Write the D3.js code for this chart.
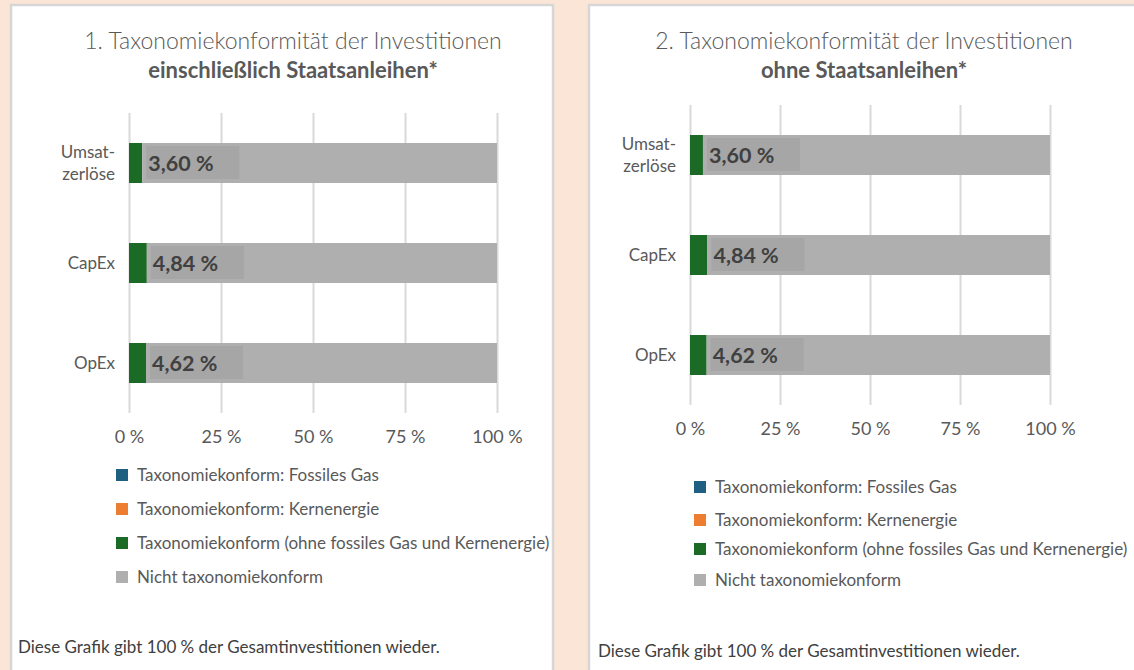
<!DOCTYPE html>
<html>
<head>
<meta charset="utf-8">
<script src="https://cdn.jsdelivr.net/npm/d3@7"></script>
<style>
  body { margin: 0; background: #fbe5d6; }
  svg { display: block; font-family: Lato, "Open Sans", sans-serif; }
</style>
</head>
<body>
<div id="chart"></div>
<script>
// Data
const categories = ["Umsatzerlöse", "CapEx", "OpEx"];
const categoryLines = [["Umsat-", "zerlöse"], ["CapEx"], ["OpEx"]];
const tickValues = [0, 25, 50, 75, 100];

// 1. including sovereign bonds
const gasIncl = [0, 0, 0];
const nuclearIncl = [0, 0, 0];
const alignedIncl = [3.60, 4.84, 4.62];
const notAlignedIncl = [96.40, 95.16, 95.38];

// 2. excluding sovereign bonds
const gasExcl = [0, 0, 0];
const nuclearExcl = [0, 0, 0];
const alignedExcl = [3.60, 4.84, 4.62];
const notAlignedExcl = [96.40, 95.16, 95.38];

const seriesNames = [
    "Taxonomiekonform: Fossiles Gas",
    "Taxonomiekonform: Kernenergie",
    "Taxonomiekonform (ohne fossiles Gas und Kernenergie)",
    "Nicht taxonomiekonform"
];
const seriesColors = ["#1f5f82", "#ed7d31", "#1b6b27", "#afafaf"];
const footnote = "Diese Grafik gibt 100 % der Gesamtinvestitionen wieder.";

const svg = d3.select("#chart")
    .append("svg")
    .attr("width", 1134)
    .attr("height", 670);

// build rows for d3.stack
function makeRows(gas, nuclear, aligned, notAligned) {
    return categories.map((c, i) => ({
        cat: c,
        lines: categoryLines[i],
        s0: gas[i], s1: nuclear[i], s2: aligned[i], s3: notAligned[i]
    }));
}

const stack = d3.stack().keys(["s0", "s1", "s2", "s3"]);

function drawPanel(cfg) {
    // white panel with grey border
    svg.append("rect")
        .attr("x", cfg.box[0])
        .attr("y", cfg.box[1])
        .attr("width", cfg.box[2])
        .attr("height", cfg.box[3])
        .attr("fill", "#fff")
        .attr("stroke", "#d6d6d6")
        .attr("stroke-width", 2.5);

    const g = svg.append("g");

    // titles
    g.append("text")
        .attr("x", cfg.titleX)
        .attr("y", cfg.titleY)
        .attr("text-anchor", "middle")
        .style("font-size", "23px")
        .style("font-weight", 300)
        .style("fill", "#595959")
        .text(cfg.title1);
    g.append("text")
        .attr("x", cfg.titleX)
        .attr("y", cfg.titleY + 29)
        .attr("text-anchor", "middle")
        .style("font-size", "22px")
        .style("font-weight", "bold")
        .style("fill", "#595959")
        .text(cfg.title2);

    const x = d3.scaleLinear().domain([0, 100]).range(cfg.xRange);
    const y = d3.scaleBand()
        .domain(categories)
        .range(cfg.yRange)
        .paddingInner(0.6)
        .paddingOuter(0.3);

    // vertical gridlines + tick labels
    const axis = g.append("g")
        .attr("transform", `translate(0,${cfg.yRange[1]})`)
        .call(d3.axisBottom(x)
            .tickValues(tickValues)
            .tickSize(-(cfg.yRange[1] - cfg.yRange[0]))
            .tickPadding(17)
            .tickFormat(d => d + " %"));
    axis.select(".domain").remove();
    axis.selectAll("line")
        .attr("stroke", "#d9d9d9")
        .attr("stroke-width", 2);
    axis.selectAll("text")
        .style("font-size", "18px")
        .style("font-family", "Lato, sans-serif")
        .style("fill", "#595959");

    const rows = makeRows(...cfg.data);
    const stacked = stack(rows);

    g.selectAll(".layer")
        .data(stacked)
        .enter()
        .append("g")
        .attr("fill", (d, i) => seriesColors[i])
        .selectAll("rect")
        .data(d => d)
        .enter()
        .append("rect")
        .attr("x", d => x(d[0]))
        .attr("y", d => y(d.data.cat))
        .attr("width", d => x(d[1]) - x(d[0]))
        .attr("height", y.bandwidth());

    // data labels for the aligned share, with a darker grey box
    const labels = g.selectAll(".dlabel")
        .data(rows)
        .enter()
        .append("g")
        .attr("transform", d => `translate(${x(d.s0 + d.s1 + d.s2) + 4},${y(d.cat) + y.bandwidth() / 2})`);
    labels.append("rect")
        .attr("x", 0)
        .attr("y", -17)
        .attr("width", 93)
        .attr("height", 33)
        .attr("fill", "#a6a6a6");
    labels.append("text")
        .attr("x", 2)
        .attr("dy", "0.35em")
        .style("font-size", "21.5px")
        .style("font-weight", "bold")
        .style("fill", "#404040")
        .text(d => d3.format(".2f")(d.s2).replace(".", ",") + " %");

    // category labels
    const cats = g.selectAll(".cat")
        .data(rows)
        .enter()
        .append("text")
        .attr("x", cfg.xRange[0] - 14)
        .attr("y", d => y(d.cat) + y.bandwidth() / 2 - (d.lines.length - 1) * 11)
        .attr("text-anchor", "end")
        .style("font-size", "17px")
        .style("fill", "#595959");
    cats.selectAll("tspan")
        .data(d => d.lines)
        .enter()
        .append("tspan")
        .attr("x", cfg.xRange[0] - 14)
        .attr("dy", (d, i) => i === 0 ? "0.35em" : "22px")
        .text(d => d);

    // legend
    const legend = g.selectAll(".legend")
        .data(seriesNames)
        .enter()
        .append("g")
        .attr("transform", (d, i) => `translate(${cfg.legendX},${cfg.legendY[i]})`);
    legend.append("rect")
        .attr("x", 0)
        .attr("y", -6)
        .attr("width", 12)
        .attr("height", 12)
        .attr("fill", (d, i) => seriesColors[i]);
    legend.append("text")
        .attr("x", 21)
        .attr("dy", "0.35em")
        .style("font-size", "17px")
        .style("fill", "#595959")
        .text(d => d);

    // footnote
    g.append("text")
        .attr("x", cfg.footX)
        .attr("y", cfg.footY)
        .attr("dy", "0.35em")
        .style("font-size", "17px")
        .style("fill", "#404040")
        .text(footnote);
}

drawPanel({
    box: [11, 5, 542, 680],
    title1: "1. Taxonomiekonformität der Investitionen",
    title2: "einschließlich Staatsanleihen*",
    titleX: 293,
    titleY: 49,
    xRange: [129, 497],
    yRange: [113, 413],
    data: [gasIncl, nuclearIncl, alignedIncl, notAlignedIncl],
    legendX: 116,
    legendY: [475, 509, 543, 577],
    footX: 18,
    footY: 647
});

drawPanel({
    box: [589, 5, 560, 680],
    title1: "2. Taxonomiekonformität der Investitionen",
    title2: "ohne Staatsanleihen*",
    titleX: 864,
    titleY: 49,
    xRange: [690, 1050],
    yRange: [105, 405],
    data: [gasExcl, nuclearExcl, alignedExcl, notAlignedExcl],
    legendX: 694,
    legendY: [487, 520, 549, 580],
    footX: 598,
    footY: 651
});
</script>
</body>
</html>
